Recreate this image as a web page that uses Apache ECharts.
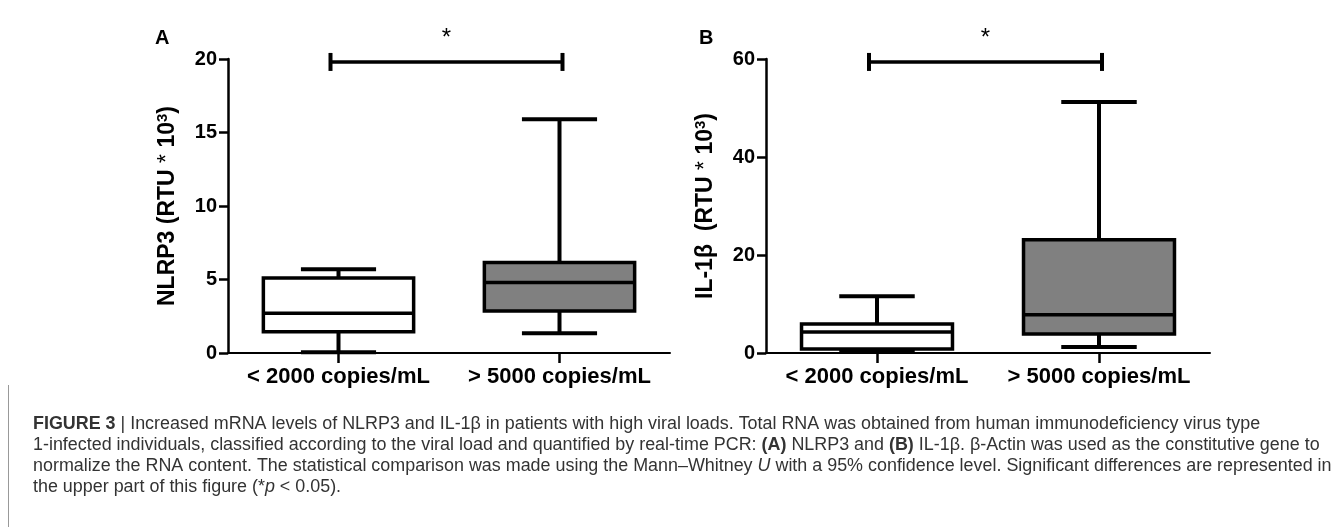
<!DOCTYPE html>
<html>
<head>
<meta charset="utf-8">
<script src="https://cdn.jsdelivr.net/npm/echarts@6/dist/echarts.min.js"></script>
<style>
html,body{margin:0;padding:0;background:#fff;}
#chart{width:1344px;height:527px;}
</style>
</head>
<body>
<div id="chart"></div>
<script>
// ---------- data ----------
const categories = ['< 2000 copies/mL', '> 5000 copies/mL'];
// [min, Q1, median, Q3, max]
const nlrp3Low  = [0.05, 1.45, 2.7, 5.1, 5.7];
const nlrp3High = [1.35, 2.85, 4.8, 6.15, 15.9];
const il1bLow   = [0.3, 0.8, 4.3, 5.9, 11.6];
const il1bHigh  = [1.2, 3.9, 7.8, 23.1, 51.2];
const yTicksA = { min: 0, max: 20, interval: 5 };
const yTicksB = { min: 0, max: 60, interval: 20 };
const sigLevelA = 19.8;
const sigLevelB = 59.4;
const sigMark = '*';
const panelLabels = ['A', 'B'];
const captionLines = [
  '{b|FIGURE 3} {n|| Increased mRNA levels of NLRP3 and IL-1β in patients with high viral loads. Total RNA was obtained from human immunodeficiency virus type}',
  '{n|1-infected individuals, classified according to the viral load and quantified by real-time PCR: }{b|(A)}{n| NLRP3 and }{b|(B)}{n| IL-1β. β-Actin was used as the constitutive gene to}',
  '{n|normalize the RNA content. The statistical comparison was made using the Mann–Whitney }{i|U}{n| with a 95% confidence level. Significant differences are represented in}',
  '{n|the upper part of this figure (*}{i|p}{n| < 0.05).}'
];
const captionPlain3 = 'normalize the RNA content. The statistical comparison was made using the Mann–Whitney U with a 95% confidence level. Significant differences are represented in';

// ---------- styles ----------
const FONT = 'Liberation Sans, Arial, sans-serif';
const fills = ['#ffffff', '#808080'];

function boxRender(params, api) {
  const ci = api.value(0);
  const pts = [1,2,3,4,5].map(k => api.coord([ci, api.value(k)]));
  const band = api.size([1, 0])[0];
  const bw = band * 0.68, cw = bw * 0.5;
  const cx = pts[0][0];
  const lw = 3.5;
  const stroke = { stroke: '#000', lineWidth: lw };
  return {
    type: 'group',
    children: [
      { type: 'line', shape: { x1: cx, y1: pts[3][1], x2: cx, y2: pts[4][1] }, style: { stroke: '#000', lineWidth: 4 } },
      { type: 'line', shape: { x1: cx, y1: pts[1][1], x2: cx, y2: pts[0][1] }, style: { stroke: '#000', lineWidth: 4 } },
      { type: 'line', shape: { x1: cx - cw/2, y1: pts[4][1], x2: cx + cw/2, y2: pts[4][1] }, style: { stroke: '#000', lineWidth: 4 } },
      { type: 'line', shape: { x1: cx - cw/2, y1: pts[0][1], x2: cx + cw/2, y2: pts[0][1] }, style: { stroke: '#000', lineWidth: 4 } },
      { type: 'rect', shape: { x: cx - bw/2, y: pts[3][1], width: bw, height: pts[1][1] - pts[3][1] },
        style: { fill: fills[ci], stroke: '#000', lineWidth: lw } },
      { type: 'line', shape: { x1: cx - bw/2, y1: pts[2][1], x2: cx + bw/2, y2: pts[2][1] }, style: stroke }
    ]
  };
}

function sigRender(params, api) {
  const v = api.value(2);
  const p0 = api.coord([api.value(0), v]);
  const p1 = api.coord([api.value(1), v]);
  const x0 = p0[0] - 8, x1 = p1[0] + 3, y = p0[1];
  return {
    type: 'group',
    children: [
      { type: 'line', shape: { x1: x0, y1: y, x2: x1, y2: y }, style: { stroke: '#000', lineWidth: 3.5 } },
      { type: 'line', shape: { x1: x0, y1: y - 9, x2: x0, y2: y + 9 }, style: { stroke: '#000', lineWidth: 4 } },
      { type: 'line', shape: { x1: x1, y1: y - 9, x2: x1, y2: y + 9 }, style: { stroke: '#000', lineWidth: 4 } },
      { type: 'text', x: (x0 + x1) / 2, y: y - 24,
        style: { text: sigMark, fill: '#000', font: 'normal 24px ' + FONT, textAlign: 'center', textVerticalAlign: 'middle' } }
    ]
  };
}

function yAxisFor(gi, ticks, nameRich) {
  return {
    gridIndex: gi, type: 'value', min: ticks.min, max: ticks.max, interval: ticks.interval,
    splitLine: { show: false },
    axisLine: { show: true, lineStyle: { color: '#000', width: 2.5 } },
    axisTick: { show: true, length: 9, lineStyle: { color: '#000', width: 2.5 } },
    axisLabel: { color: '#000', fontSize: 20, fontWeight: 'bold', fontFamily: FONT, margin: 11 },
    name: nameRich, nameLocation: 'middle', nameRotate: 90, nameGap: 48,
    nameTextStyle: {
      color: '#000', fontSize: 23, fontWeight: 'bold', fontFamily: FONT,
      rich: {
        a: { fontSize: 23, fontWeight: 'bold', fontFamily: FONT, color: '#000' },
        s: { fontSize: 23, fontWeight: 'normal', fontFamily: FONT, color: '#000' },
        sup: { fontSize: 15, fontWeight: 'bold', fontFamily: FONT, color: '#000', verticalAlign: 'top', padding: [0,0,10,0] }
      }
    }
  };
}
function xAxisFor(gi) {
  return {
    gridIndex: gi, type: 'category', data: categories, boundaryGap: true,
    axisLine: { show: true, lineStyle: { color: '#000', width: 2 } },
    axisTick: { show: true, alignWithLabel: true, length: 10, lineStyle: { color: '#000', width: 2.5 } },
    axisLabel: { color: '#000', fontSize: 22, fontWeight: 'bold', fontFamily: FONT, margin: 13, interval: 0 }
  };
}

// caption font size fitted to the line width of the reference
const cv = document.createElement('canvas').getContext('2d');
cv.font = '100px ' + FONT;
const capSize = 1299 / cv.measureText(captionPlain3).width * 100;
const capRich = {
  n: { fontSize: capSize, fontFamily: FONT, color: '#333' },
  b: { fontSize: capSize, fontFamily: FONT, color: '#333', fontWeight: 'bold' },
  i: { fontSize: capSize, fontFamily: FONT, color: '#333', fontStyle: 'italic' }
};
const capY = [426, 447, 468, 489];

const chart = echarts.init(document.getElementById('chart'), null, { renderer: 'canvas' });
chart.setOption({
  animation: false,
  backgroundColor: '#fff',
  grid: [
    { left: 228, top: 59, width: 442, height: 294 },
    { left: 766, top: 59, width: 444, height: 294 }
  ],
  xAxis: [xAxisFor(0), xAxisFor(1)],
  yAxis: [
    yAxisFor(0, yTicksA, '{a|NLRP3 (RTU }{s|*}{a| 10}{sup|3}{a|)}'),
    yAxisFor(1, yTicksB, '{a|IL-1β  (RTU }{s|*}{a| 10}{sup|3}{a|)}')
  ],
  series: [
    { type: 'custom', xAxisIndex: 0, yAxisIndex: 0, clip: false, renderItem: boxRender,
      data: [[0].concat(nlrp3Low), [1].concat(nlrp3High)] },
    { type: 'custom', xAxisIndex: 1, yAxisIndex: 1, clip: false, renderItem: boxRender,
      data: [[0].concat(il1bLow), [1].concat(il1bHigh)] },
    { type: 'custom', xAxisIndex: 0, yAxisIndex: 0, clip: false, renderItem: sigRender,
      data: [[0, 1, sigLevelA]] },
    { type: 'custom', xAxisIndex: 1, yAxisIndex: 1, clip: false, renderItem: sigRender,
      data: [[0, 1, sigLevelB]] }
  ],
  graphic: [
    { type: 'text', left: 155, top: 28, style: { text: panelLabels[0], font: 'bold 20px ' + FONT, fill: '#000' } },
    { type: 'text', left: 699, top: 28, style: { text: panelLabels[1], font: 'bold 20px ' + FONT, fill: '#000' } },
    { type: 'line', shape: { x1: 8.5, y1: 385, x2: 8.5, y2: 527 }, style: { stroke: '#999', lineWidth: 1 } }
  ].concat(captionLines.map((t, k) => ({
    type: 'text', left: 33, top: capY[k] - capSize * 0.6,
    style: { text: t, rich: capRich, fill: '#333', font: capSize + 'px ' + FONT }
  })))
});
</script>
</body>
</html>
